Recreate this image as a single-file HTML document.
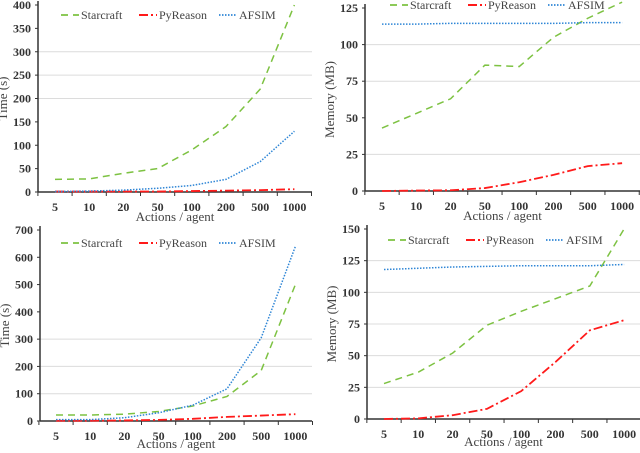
<!DOCTYPE html>
<html><head><meta charset="utf-8"><style>
html,body{margin:0;padding:0;background:#fff;}
svg{display:block;font-family:"Liberation Serif",serif;}
</style></head><body>
<svg id="s" width="640" height="453" viewBox="0 0 640 453"></svg>
<script>
const categories=["5","10","20","50","100","200","500","1000"];
const seriesNames=["Starcraft","PyReason","AFSIM"];
const c1Starcraft=[27,28,40,50,90,140,220,400];
const c1PyReason=[1,1,1,1,2,3,4,6];
const c1AFSIM=[1,2,4,8,14,27,65,130];
const c1Ticks=[0,50,100,150,200,250,300,350,400];
const c2Starcraft=[43,53,63,86,85,105,118,129];
const c2PyReason=[0,0.3,0.5,2,6,11,17,19];
const c2AFSIM=[114,114,114.5,114.5,114.5,114.5,115,115];
const c2Ticks=[0,25,50,75,100,125];
const c3Starcraft=[22,22,25,35,55,90,185,500];
const c3PyReason=[1,1,2,4,8,15,20,25];
const c3AFSIM=[5,5,12,30,58,118,305,640];
const c3Ticks=[0,100,200,300,400,500,600,700];
const c4Starcraft=[28,37,52,74,85,95,105,150];
const c4PyReason=[0,0.5,3,8,22,45,70,78];
const c4AFSIM=[118,119,120,120.5,121,121,121,122];
const c4Ticks=[0,25,50,75,100,125,150];

const NS="http://www.w3.org/2000/svg";
const svg=document.getElementById('s');
function el(tag,attrs,parent,text){const e=document.createElementNS(NS,tag);for(const k in attrs)e.setAttribute(k,attrs[k]);if(text!==undefined)e.textContent=text;(parent||svg).appendChild(e);return e;}
const styles=[{stroke:"#7dc242",dash:"7,5",w:1.5},{stroke:"#ff1a1a",dash:"9,3,2,3",w:1.8},{stroke:"#2f86d6",dash:"1.5,1.5",w:1.5}];

function chart(id,cfg,data,ticks){
  const g=el('g',{});
  
  
  const {ax,y0,yTop,vTop,x0,step,right,ylabel,legY,legX,grid,xtOff}=cfg;
  const ys=v=>y0-(v/vTop)*(y0-yTop);
  const xs=i=>x0+i*step;
  ticks.forEach(t=>{
    const y=ys(t);
    if(t>0&&grid.includes(t)){const gl=el('line',{x1:ax,x2:right,y1:y,y2:y,stroke:"#dcdcdc","stroke-width":1},g);}
    const tl=el('text',{x:ax-7,y:y+4,"text-anchor":"end","font-size":12,"font-weight":"bold",fill:"#333"},g,String(t));
    
    el('line',{x1:ax-3,x2:ax,y1:y,y2:y,stroke:"#333"},g);
  });
  const ya=el('line',{x1:ax,x2:ax,y1:yTop-4,y2:y0,stroke:"#333","stroke-width":1.5},g);
  
  const xa=el('line',{x1:ax,x2:right,y1:y0,y2:y0,stroke:"#333","stroke-width":1.5},g);
  
  categories.forEach((c,i)=>{
    const tl=el('text',{x:xs(i),y:y0+19,"text-anchor":"middle","font-size":12,"font-weight":"bold",fill:"#333"},g,c);
    
    el('line',{x1:xs(i)+step/2,x2:xs(i)+step/2,y1:y0,y2:y0+4,stroke:"#333"},g);
  });
  el('line',{x1:xs(0)-step/2,x2:xs(0)-step/2,y1:y0,y2:y0+4,stroke:"#333"},g);
  const xt=el('text',{x:(ax+right)/2,y:y0+xtOff,"text-anchor":"middle","font-size":13,fill:"#444"},g,"Actions / agent");
  
  const yc=(y0+yTop)/2;
  const yt=el('text',{x:0,y:0,transform:`translate(${ax-31},${yc}) rotate(-90)`,"text-anchor":"middle","font-size":13,fill:"#444"},g,ylabel);
  
  data.forEach((arr,si)=>{
    const st=styles[si];
    const p=el('polyline',{points:arr.map((v,i)=>xs(i)+","+ys(v)).join(" "),fill:"none",stroke:st.stroke,"stroke-width":st.w,"stroke-dasharray":st.dash},g);
    
  });
  let lx=legX;
  const widths=[58,60,50];
  seriesNames.forEach((n,si)=>{
    const st=styles[si];
    const lg=el('g',{},g);
    
    el('line',{x1:lx,x2:lx+18,y1:legY-4,y2:legY-4,stroke:st.stroke,"stroke-width":st.w+0.3,"stroke-dasharray":st.dash},lg);
    el('text',{x:lx+20,y:legY,"font-size":12,fill:"#444"},lg,n);
    lx+=20+widths[si];
  });
}
chart('chart-time-1',{ax:38,y0:192,yTop:5,vTop:400,x0:55,step:34.2,right:312,ylabel:"Time (s)",legY:19,legX:61,grid:[200,250,300],xtOff:29},[c1Starcraft,c1PyReason,c1AFSIM],c1Ticks);
chart('chart-memory-1',{ax:365,y0:191,yTop:8,vTop:125,x0:382,step:34.3,right:640,ylabel:"Memory (MB)",legY:9,legX:390,grid:[25,75,100],xtOff:29},[c2Starcraft,c2PyReason,c2AFSIM],c2Ticks);
chart('chart-time-2',{ax:40,y0:421,yTop:230,vTop:700,x0:56,step:34.2,right:312,ylabel:"Time (s)",legY:247,legX:61,grid:[100,200,300],xtOff:27},[c3Starcraft,c3PyReason,c3AFSIM],c3Ticks);
chart('chart-memory-2',{ax:367,y0:419,yTop:229,vTop:150,x0:384,step:34.3,right:640,ylabel:"Memory (MB)",legY:244,legX:388,grid:[25,50,75,100,125],xtOff:27},[c4Starcraft,c4PyReason,c4AFSIM],c4Ticks);
</script>
</body></html>
